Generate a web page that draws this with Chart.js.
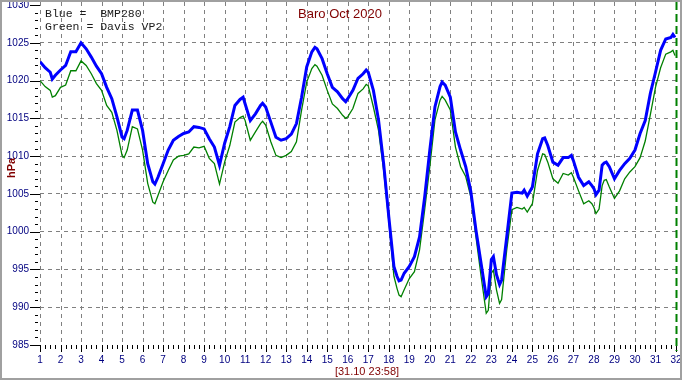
<!DOCTYPE html>
<html>
<head>
<meta charset="utf-8">
<script src="https://cdn.jsdelivr.net/npm/chart.js@4"></script>
<style>
html,body{margin:0;padding:0;background:#fff;}
#wrap{width:682px;height:380px;position:relative;}
</style>
</head>
<body>
<div id="wrap"><canvas id="c" width="682" height="380"></canvas></div>
<script>
const chartTitle = "Baro Oct 2020";
const legendLines = ["Blue =  BMP280", "Green = Davis VP2"];
const yAxisTitle = "hPa";
const footerLabel = "[31.10 23:58]";
const dayTicks = [1,2,3,4,5,6,7,8,9,10,11,12,13,14,15,16,17,18,19,20,21,22,23,24,25,26,27,28,29,30,31,32];

const days = [1,1.25,1.5,1.6,1.75,2,2.25,2.5,2.75,3,3.25,3.5,3.75,4,4.25,4.5,4.75,5,5.1,5.25,5.5,5.75,6,6.25,6.5,6.6,6.75,7,7.25,7.5,7.75,8,8.25,8.5,8.75,9,9.25,9.5,9.75,10,10.25,10.5,10.75,10.9,11,11.25,11.5,11.75,11.85,12,12.25,12.5,12.75,13,13.25,13.5,13.75,14,14.25,14.4,14.5,14.75,15,15.25,15.5,15.75,15.9,16,16.25,16.5,16.75,16.9,17,17.25,17.5,17.75,18,18.25,18.4,18.5,18.6,18.75,19,19.25,19.5,19.75,20,20.25,20.5,20.6,20.75,21,21.25,21.5,21.75,22,22.25,22.5,22.75,22.85,23,23.1,23.25,23.4,23.5,23.75,24,24.25,24.5,24.6,24.75,25,25.25,25.5,25.6,25.75,26,26.25,26.5,26.75,26.9,27,27.25,27.5,27.75,27.9,28,28.1,28.25,28.4,28.5,28.6,28.75,29,29.25,29.5,29.75,30,30.25,30.5,30.75,31,31.25,31.5,31.75,31.85,31.95];

const bmp280 = [1022.5,1021.7,1021.1,1020.2,1020.7,1021.4,1022.0,1023.8,1023.8,1025.0,1024.2,1023.1,1021.9,1020.9,1019.1,1017.6,1015.2,1012.5,1012.3,1013.4,1016.1,1016.1,1013.4,1009.0,1006.6,1006.3,1007.2,1009.0,1010.8,1012.1,1012.6,1013.0,1013.2,1013.9,1013.8,1013.6,1012.3,1011.2,1008.8,1011.7,1013.9,1016.7,1017.5,1017.8,1016.9,1014.7,1015.6,1016.7,1017.0,1016.5,1014.5,1012.5,1012.1,1012.3,1012.9,1014.3,1017.8,1021.8,1023.8,1024.4,1024.2,1022.9,1020.9,1019.1,1018.5,1017.6,1017.2,1017.6,1018.7,1020.3,1020.9,1021.4,1021.1,1018.7,1014.8,1009.0,1002.0,995.4,994.1,993.5,993.6,994.5,995.4,996.7,999.3,1004.6,1010.8,1016.5,1019.2,1019.8,1019.4,1017.8,1013.2,1010.8,1008.6,1005.3,1000.2,995.8,991.4,991.8,996.3,996.7,994.3,993.0,993.6,999.3,1005.1,1005.2,1005.1,1005.5,1004.7,1005.9,1010.3,1012.3,1012.4,1011.4,1009.2,1008.8,1009.8,1009.8,1010.1,1009.4,1007.2,1006.1,1006.6,1006.1,1005.7,1004.9,1005.5,1008.8,1009.1,1009.2,1008.6,1007.0,1008.1,1009.0,1009.7,1010.8,1013.0,1014.7,1018.3,1021.1,1024.0,1025.5,1025.7,1026.1,1025.7];

const davisVP2 = [1020.0,1019.2,1018.7,1017.8,1018.0,1019.1,1019.4,1021.3,1021.3,1022.6,1022.0,1020.9,1019.6,1018.7,1016.7,1015.8,1013.4,1010.1,1009.8,1010.8,1013.9,1013.6,1010.8,1006.4,1003.9,1003.7,1004.8,1006.6,1008.1,1009.5,1010.0,1010.1,1010.3,1011.2,1011.1,1011.3,1009.7,1009.0,1006.3,1009.2,1011.4,1014.5,1015.1,1015.3,1014.7,1012.1,1013.2,1014.3,1014.6,1014.1,1011.9,1010.1,1009.8,1010.1,1010.6,1011.9,1016.1,1019.8,1021.6,1022.1,1021.9,1020.7,1018.7,1016.9,1016.3,1015.4,1015.0,1015.2,1016.3,1018.3,1018.9,1019.5,1019.3,1016.5,1013.4,1008.1,1001.5,994.1,992.5,991.6,991.4,992.3,993.8,994.7,997.6,1002.9,1008.6,1014.8,1017.4,1017.9,1017.4,1016.1,1011.2,1008.6,1007.3,1004.6,999.3,994.1,989.2,989.6,994.5,994.9,992.3,990.5,991.0,997.6,1002.9,1003.2,1003.0,1003.2,1002.6,1003.7,1008.1,1010.3,1010.2,1009.2,1007.0,1006.4,1007.7,1007.5,1007.8,1007.2,1005.4,1003.7,1004.1,1003.7,1003.2,1002.4,1003.0,1006.1,1006.8,1006.9,1005.9,1004.4,1005.4,1007.0,1007.9,1008.6,1009.8,1012.0,1015.5,1019.1,1021.7,1023.5,1023.8,1024.0,1023.3];

const yMin = 985, yMax = 1030, nowDay = 32;

const TICK_FONT = {family: "'Liberation Sans Narrow', 'Liberation Sans', Arial, sans-serif", size: 10};
const NAVY = '#000080';
const DARKRED = '#800000';
const GRID = '#808080';

const gridPlugin = {
  id: 'vgrid',
  beforeDatasetsDraw(chart) {
    const ctx = chart.ctx;
    const xs = chart.scales.x;
    const area = chart.chartArea;
    ctx.save();
    ctx.strokeStyle = GRID;
    ctx.lineWidth = 1;
    ctx.setLineDash([4, 4]);
    dayTicks.forEach(d => {
      if (d === nowDay) return;
      const px = Math.round(xs.getPixelForValue(d)) + 0.5;
      ctx.beginPath();
      ctx.moveTo(px, 2);
      ctx.lineTo(px, area.bottom - 2);
      ctx.stroke();
    });
    ctx.restore();
  }
};

const decorPlugin = {
  id: 'decor',
  afterDraw(chart) {
    const ctx = chart.ctx;
    const xs = chart.scales.x, ys = chart.scales.y;
    const area = chart.chartArea;
    ctx.save();
    ctx.strokeStyle = '#000';
    ctx.lineWidth = 1;
    for (let v = yMin; v <= yMax; v++) {
      const py = Math.round(ys.getPixelForValue(v)) + 0.5;
      ctx.beginPath();
      if (v % 5 === 0) { ctx.moveTo(30, py); ctx.lineTo(area.left, py); }
      else { ctx.moveTo(35, py); ctx.lineTo(38, py); }
      ctx.stroke();
    }
    for (let d = 1; d <= 32; d += 0.25) {
      const px = Math.round(xs.getPixelForValue(d)) + 0.5;
      const major = Number.isInteger(d);
      ctx.beginPath();
      ctx.moveTo(px, area.bottom);
      ctx.lineTo(px, area.bottom + (major ? 7 : 4));
      ctx.stroke();
    }
    const nx = Math.round(xs.getPixelForValue(nowDay)) + 0.5;
    ctx.strokeStyle = '#008000';
    ctx.lineWidth = 2;
    ctx.setLineDash([8, 4]);
    ctx.beginPath();
    ctx.moveTo(nx, 2);
    ctx.lineTo(nx, area.bottom + 6);
    ctx.stroke();
    ctx.setLineDash([]);
    ctx.fillStyle = DARKRED;
    ctx.font = "13px 'Liberation Sans', Arial, sans-serif";
    ctx.textAlign = 'center';
    ctx.textBaseline = 'alphabetic';
    ctx.fillText(chartTitle, 340, 18);
    ctx.fillStyle = '#1a1a1a';
    ctx.font = "11.5px 'Liberation Mono', 'Courier New', monospace";
    ctx.textAlign = 'left';
    ctx.fillText(legendLines[0], 45, 17);
    ctx.fillText(legendLines[1], 45, 30);
    ctx.save();
    ctx.translate(15, 168);
    ctx.rotate(-Math.PI / 2);
    ctx.fillStyle = DARKRED;
    ctx.font = "bold 11px 'Liberation Sans Narrow', 'Liberation Sans', Arial, sans-serif";
    ctx.textAlign = 'center';
    ctx.fillText(yAxisTitle, 0, 0);
    ctx.restore();
    ctx.fillStyle = DARKRED;
    ctx.font = "11px 'Liberation Sans', Arial, sans-serif";
    ctx.textAlign = 'center';
    ctx.fillText(footerLabel, 367, 375);
    ctx.strokeStyle = '#a0a0a0';
    ctx.lineWidth = 2;
    ctx.strokeRect(1, 1, 680, 378);
    ctx.restore();
  }
};

new Chart(document.getElementById('c'), {
  type: 'line',
  data: {
    datasets: [
      {
        label: 'BMP280',
        data: days.map((d, i) => ({x: d, y: bmp280[i]})),
        borderColor: '#0000ff',
        borderWidth: 3,
        pointRadius: 0,
        tension: 0,
        fill: false
      },
      {
        label: 'Davis VP2',
        data: days.map((d, i) => ({x: d, y: davisVP2[i]})),
        borderColor: '#008000',
        borderWidth: 1.3,
        pointRadius: 0,
        tension: 0,
        fill: false
      }
    ]
  },
  options: {
    responsive: false,
    animation: false,
    devicePixelRatio: 1,
    layout: {padding: {left: 0, top: 5, right: 6, bottom: 0}},
    plugins: {legend: {display: false}, title: {display: false}, tooltip: {enabled: false}},
    scales: {
      x: {
        type: 'linear',
        min: 1, max: 32,
        afterFit(s) { s.height = 35; s.paddingLeft = 0; s.paddingRight = 0; },
        afterBuildTicks(s) { s.ticks = dayTicks.map(v => ({value: v})); },
        ticks: {
          color: NAVY, font: TICK_FONT, padding: 9, maxRotation: 0, autoSkip: false,
          callback: v => String(v)
        },
        grid: {drawTicks: false, display: false},
        border: {display: false}
      },
      y: {
        min: yMin, max: yMax,
        afterFit(s) { s.width = 40; s.paddingTop = 0; s.paddingBottom = 0; },
        ticks: {
          stepSize: 1, color: NAVY, font: TICK_FONT, padding: 11, autoSkip: false,
          callback: v => (v % 5 === 0 ? String(v) : '')
        },
        grid: {
          drawTicks: false,
          color: c => {
            const v = c.tick ? c.tick.value : null;
            return (v !== null && v % 5 === 0 && v !== yMin && v !== yMax) ? GRID : 'rgba(0,0,0,0)';
          },
          lineWidth: 1
        },
        border: {display: false, dash: [4, 4]}
      }
    }
  },
  plugins: [gridPlugin, decorPlugin]
});
</script>
</body>
</html>
